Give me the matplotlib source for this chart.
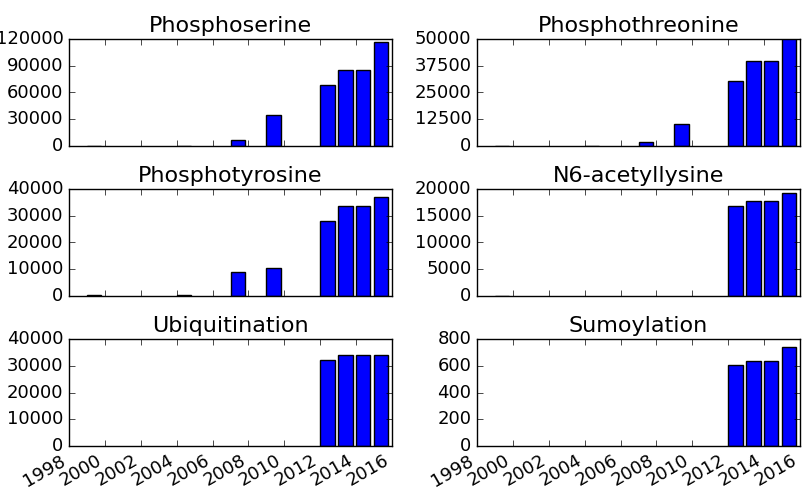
import matplotlib
matplotlib.use("Agg")
import matplotlib.pyplot as plt
import numpy as np

plt.style.use("classic")
plt.rcParams["font.family"] = ["DejaVu Sans"]

years = [1999, 2004, 2007, 2009, 2012, 2013, 2014, 2015]

titles = ["Phosphoserine", "Phosphothreonine", "Phosphotyrosine",
          "N6-acetyllysine", "Ubiquitination", "Sumoylation"]

phosphoserine = [500, 300, 6750, 35300, 68200, 84700, 84700, 116600]
phosphothreonine = [100, 100, 1900, 10300, 30600, 39700, 39700, 50300]
phosphotyrosine = [200, 400, 9000, 10500, 28100, 33600, 33600, 36900]
acetyllysine = [50, 0, 0, 0, 16800, 17800, 17800, 19250]
ubiquitination = [0, 0, 0, 0, 32300, 34150, 34150, 34200]
sumoylation = [0, 0, 0, 0, 604, 636, 636, 743]

series = [phosphoserine, phosphothreonine, phosphotyrosine,
          acetyllysine, ubiquitination, sumoylation]

ylims = [120000, 50000, 40000, 20000, 40000, 800]
yticks = [
    [0, 30000, 60000, 90000, 120000],
    [0, 12500, 25000, 37500, 50000],
    [0, 10000, 20000, 30000, 40000],
    [0, 5000, 10000, 15000, 20000],
    [0, 10000, 20000, 30000, 40000],
    [0, 200, 400, 600, 800],
]
xticks = list(range(1998, 2017, 2))

fig = plt.figure(figsize=(8.04, 4.9), dpi=100, facecolor="white")
W, H = 804.0, 490.0
lefts = [69, 477]
width = 323
rows = [(39, 146), (189, 296), (339, 446)]

for i in range(6):
    r, c = divmod(i, 2)
    top, bot = rows[r]
    ax = fig.add_axes([lefts[c] / W, 1 - bot / H, width / W, (bot - top) / H])
    xs = [y for y, v in zip(years, series[i]) if v > 0]
    vs = [v for v in series[i] if v > 0]
    ax.bar(xs, vs, width=0.8, align="edge", color="b", edgecolor="k", linewidth=1)
    ax.set_xlim(1998, 2016)
    ax.set_ylim(0, ylims[i])
    ax.set_yticks(yticks[i])
    ax.set_xticks(xticks)
    ax.set_title(titles[i], fontsize=16)
    ax.tick_params(labelsize=13)
    if r < 2:
        ax.set_xticklabels([])
    else:
        ax.set_xticklabels([str(x) for x in xticks], rotation=30, ha="right")

fig.savefig("out.png", dpi=100, facecolor="white")
